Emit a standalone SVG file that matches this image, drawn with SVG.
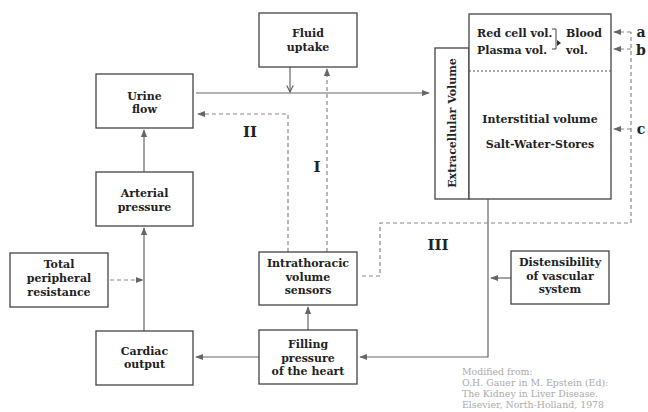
<svg xmlns="http://www.w3.org/2000/svg" width="648" height="412" viewBox="0 0 648 412">
<defs>
<marker id="tri" viewBox="0 0 10 10" refX="9" refY="5" markerWidth="8" markerHeight="8" markerUnits="userSpaceOnUse" orient="auto">
<path d="M0,1 L10,5 L0,9 Z" fill="#666"/>
</marker>
<marker id="vee" viewBox="0 0 10 10" refX="9" refY="5" markerWidth="8" markerHeight="8" markerUnits="userSpaceOnUse" orient="auto">
<path d="M1,1 L9,5 L1,9" fill="none" stroke="#555" stroke-width="1.3"/>
</marker>
</defs>
<style>
.box{fill:#fff;stroke:#444;stroke-width:1.3}
.t{font-family:"DejaVu Serif","Liberation Serif",serif;font-weight:bold;font-size:11px;fill:#222;text-anchor:middle}
.s{text-anchor:start}
.rn{font-family:"DejaVu Serif","Liberation Serif",serif;font-weight:bold;font-size:15px;fill:#222;text-anchor:middle}
.ab{font-family:"DejaVu Serif","Liberation Serif",serif;font-weight:bold;font-size:14px;fill:#222;text-anchor:middle}
.ln{fill:none;stroke:#666;stroke-width:1.2}
.dash{fill:none;stroke:#888;stroke-width:1.2;stroke-dasharray:4,3}
.cite{font-family:"DejaVu Serif","Liberation Serif",serif;font-size:9.4px;fill:#aaa}
</style>
<rect width="648" height="412" fill="#fff"/>

<g id="connectors">
<line class="ln" x1="290" y1="67" x2="290" y2="92" marker-end="url(#vee)"/>
<line class="ln" x1="196" y1="93" x2="429" y2="93" marker-end="url(#tri)"/>
<polyline class="dash" points="288,252 288,114 198,114" marker-end="url(#tri)"/>
<line class="dash" x1="327" y1="252" x2="327" y2="69" marker-end="url(#tri)"/>
<line class="ln" x1="144" y1="172" x2="144" y2="130" marker-end="url(#tri)"/>
<line class="ln" x1="144" y1="331" x2="144" y2="228" marker-end="url(#tri)"/>
<line class="dash" x1="110" y1="280" x2="143" y2="280" marker-end="url(#tri)"/>
<line class="ln" x1="308" y1="330" x2="308" y2="307" marker-end="url(#tri)"/>
<line class="ln" x1="259" y1="357" x2="196" y2="357" marker-end="url(#tri)"/>
<polyline class="ln" points="488,199 488,357 360,357" marker-end="url(#tri)"/>
<line class="ln" x1="511" y1="278" x2="491" y2="278" marker-end="url(#tri)"/>
<polyline class="dash" points="362,276 380,276 380,223 631,223 631,32"/>
<line class="dash" x1="631" y1="32" x2="614" y2="32" marker-end="url(#tri)"/>
<line class="dash" x1="631" y1="49" x2="614" y2="49" marker-end="url(#tri)"/>
<line class="dash" x1="631" y1="129" x2="614" y2="129" marker-end="url(#tri)"/>
</g>

<g id="fluid-uptake">
<rect class="box" x="259" y="13" width="98" height="54"/>
<text class="t" x="308" y="37">Fluid</text>
<text class="t" x="308" y="51">uptake</text>
</g>

<g id="urine-flow">
<rect class="box" x="96" y="74" width="97" height="54"/>
<text class="t" x="144.5" y="100">Urine</text>
<text class="t" x="144.5" y="113">flow</text>
</g>

<g id="arterial-pressure">
<rect class="box" x="96" y="172" width="97" height="54"/>
<text class="t" x="144.5" y="197">Arterial</text>
<text class="t" x="144.5" y="211">pressure</text>
</g>

<g id="total-peripheral-resistance">
<rect class="box" x="10" y="253" width="98" height="54"/>
<text class="t" x="59" y="268">Total</text>
<text class="t" x="59" y="282">peripheral</text>
<text class="t" x="59" y="296">resistance</text>
</g>

<g id="cardiac-output">
<rect class="box" x="96" y="331" width="97" height="54"/>
<text class="t" x="144.5" y="355">Cardiac</text>
<text class="t" x="144.5" y="368">output</text>
</g>

<g id="intrathoracic-volume-sensors">
<rect class="box" x="259" y="252" width="98" height="53"/>
<text class="t" x="308" y="267">Intrathoracic</text>
<text class="t" x="308" y="281">volume</text>
<text class="t" x="308" y="294">sensors</text>
</g>

<g id="filling-pressure">
<rect class="box" x="259" y="330" width="98" height="54"/>
<text class="t" x="308" y="348">Filling</text>
<text class="t" x="308" y="362">pressure</text>
<text class="t" x="308" y="375">of the heart</text>
</g>

<g id="distensibility">
<rect class="box" x="511" y="251" width="98" height="53"/>
<text class="t" x="560" y="266">Distensibility</text>
<text class="t" x="560" y="280">of vascular</text>
<text class="t" x="560" y="293">system</text>
</g>

<g id="extracellular-volume">
<rect class="box" x="435" y="48" width="34" height="151"/>
<text class="t" transform="translate(456,123) rotate(-90)">Extracellular Volume</text>
</g>

<g id="volume-stores">
<rect class="box" x="469" y="14" width="142" height="185"/>
<line x1="469" y1="71" x2="611" y2="71" stroke="#555" stroke-width="1" stroke-dasharray="2,2"/>
<text class="t s" x="477" y="37">Red cell vol.</text>
<text class="t s" x="477" y="54">Plasma vol.</text>
<polyline points="552,29 556,29 556,49 552,49" fill="none" stroke="#444" stroke-width="1"/>
<path d="M557,40 L561,43 L557,46 Z" fill="#333"/>
<text class="t s" x="566" y="37">Blood</text>
<text class="t s" x="566" y="54">vol.</text>
<text class="t" x="540" y="123">Interstitial volume</text>
<text class="t" x="540" y="148">Salt-Water-Stores</text>
</g>

<g id="labels">
<text class="rn" x="250" y="137">II</text>
<text class="rn" x="317" y="172">I</text>
<text class="rn" x="438" y="250">III</text>
<text class="ab" x="641" y="37">a</text>
<text class="ab" x="641" y="55">b</text>
<text class="ab" x="641" y="134">c</text>
</g>

<g id="citation">
<text class="cite" x="462" y="375">Modified from:</text>
<text class="cite" x="462" y="386">O.H. Gauer in M. Epstein (Ed):</text>
<text class="cite" x="462" y="397">The Kidney in Liver Disease.</text>
<text class="cite" x="462" y="408">Elsevier, North-Holland, 1978</text>
</g>
</svg>
